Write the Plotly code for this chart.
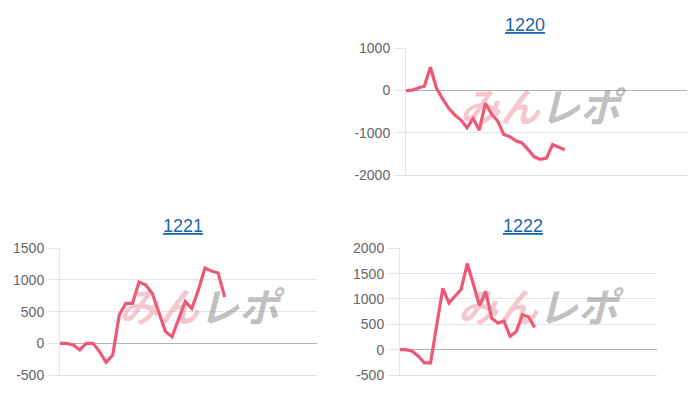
import plotly.graph_objects as go

# ---- data ----
titles = ["1220", "1221", "1222"]
slots = [47, 40, 43]  # number of x slots on each chart's category axis

v1220 = [0, 10, 60, 100, 550, 50, -200, -420, -580, -700, -880, -660, -940,
         -300, -560, -720, -1040, -1090, -1190, -1240, -1400, -1570, -1630,
         -1600, -1280, -1350, -1400]
v1221 = [0, 0, -25, -105, 0, 0, -130, -300, -185, 450, 630, 630, 970, 920,
         790, 500, 185, 105, 370, 660, 550, 840, 1190, 1140, 1110, 730]
v1222 = [0, 0, -30, -130, -260, -260, 480, 1210, 920, 1050, 1190, 1700, 1280,
         870, 1150, 620, 525, 560, 260, 360, 690, 650, 440]
series = [v1220, v1221, v1222]

y_ticks = [
    [-2000, -1000, 0, 1000],
    [-500, 0, 500, 1000, 1500],
    [-500, 0, 500, 1000, 1500, 2000],
]

# ---- layout geometry (screen pixels; page body has an 8px offset) ----
W, H = 700, 400
OFF = 8
plot_px = [  # (left, right, top, bottom)
    (406, 687, 48.3, 175),
    (60, 317, 248.3, 375),
    (400, 657, 248.3, 375),
]
title_pos = [(525, 25), (183, 226), (523, 226)]
mark_pos = [(543, 105), (202, 305), (541, 305)]


def fx(px):
    return (px - OFF) / W


def fy(py):
    return 1 - (py - OFF) / H


LINE = "rgb(238,88,118)"

fig = go.Figure()
layout = dict(
    template="none",
    width=W, height=H, margin=dict(l=0, r=0, t=0, b=0, pad=0, autoexpand=False),
    paper_bgcolor="white", plot_bgcolor="white", showlegend=False,
    font=dict(family="Liberation Sans, Arial, sans-serif", color="#666666", size=14),
)
annotations = []

for i, vals in enumerate(series):
    n = i + 1
    xa = "x" if n == 1 else f"x{n}"
    ya = "y" if n == 1 else f"y{n}"
    l, r, t, b = plot_px[i]
    fig.add_trace(go.Scatter(
        x=list(range(len(vals))), y=vals, mode="lines",
        line=dict(color=LINE, width=3.2), xaxis=xa, yaxis=ya,
        hoverinfo="y",
    ))
    layout["xaxis" if n == 1 else f"xaxis{n}"] = dict(
        domain=[fx(l), fx(r)], anchor=ya, range=[0, slots[i] - 1],
        showticklabels=False, showgrid=False, zeroline=False,
        showline=True, linecolor="rgba(0,0,0,0.12)", linewidth=1,
        ticks="", fixedrange=True, automargin=False,
    )
    tv = y_ticks[i]
    layout["yaxis" if n == 1 else f"yaxis{n}"] = dict(
        domain=[fy(b), fy(t)], anchor=xa, range=[tv[0], tv[-1]],
        tickmode="array", tickvals=tv, ticktext=[str(v) for v in tv],
        showgrid=True, gridcolor="rgba(0,0,0,0.1)", gridwidth=1,
        zeroline=True, zerolinecolor="rgba(0,0,0,0.3)", zerolinewidth=1,
        showline=True, linecolor="rgba(0,0,0,0.1)", linewidth=1,
        ticks="outside", ticklen=11, tickcolor="rgba(0,0,0,0.1)",
        ticklabelstandoff=1, automargin=False,
        tickfont=dict(size=14, color="#666666"), fixedrange=True,
    )
    tx, ty = title_pos[i]
    annotations.append(dict(
        text=f"<u>{titles[i]}</u>", x=fx(tx), y=fy(ty),
        xref="paper", yref="paper", showarrow=False,
        xanchor="center", yanchor="middle",
        font=dict(size=18, color="#1a66a6", family="Liberation Sans, Arial, sans-serif"),
    ))
    mx, my = mark_pos[i]
    annotations.append(dict(
        text="<i><b><span style='color:rgba(226,110,125,0.38)'>みん</span>"
             "<span style='color:rgba(140,140,140,0.55)'>レポ</span></b></i>",
        x=fx(mx), y=fy(my), xref="paper", yref="paper", showarrow=False,
        xanchor="center", yanchor="middle",
        font=dict(size=40, family="Noto Sans CJK JP"),
    ))

layout["annotations"] = annotations
fig.update_layout(**layout)
fig.write_html("out.html")
